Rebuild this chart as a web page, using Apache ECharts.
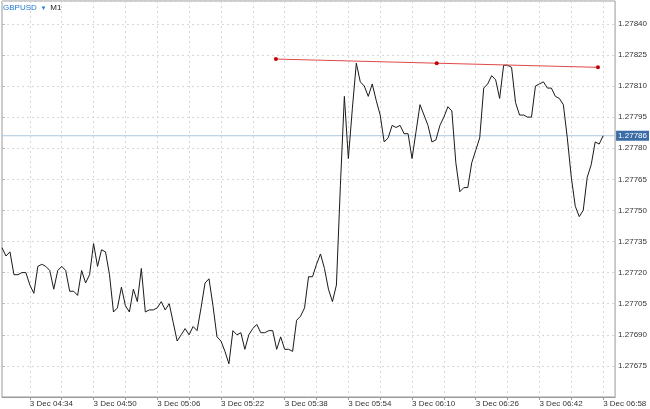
<!DOCTYPE html>
<html><head><meta charset="utf-8">
<script src="https://cdn.jsdelivr.net/npm/echarts@6/dist/echarts.min.js"></script>
<style>html,body{margin:0;padding:0;background:#fff}#c{width:650px;height:409px}</style>
</head><body><div id="c"></div>
<script>
const symbolName = 'GBPUSD';
const timeframe = 'M1';
// one close per minute, 3 Dec 04:27 .. 06:58
const closes = [
1.27732,1.27728,1.27730,1.27719,1.27719,1.27720,1.27720,1.27714,1.27710,1.27723,
1.27724,1.27723,1.27721,1.27712,1.27721,1.27723,1.27721,1.27711,1.27711,1.27709,
1.27721,1.27715,1.27719,1.27734,1.27723,1.27731,1.27730,1.27719,1.27701,1.27703,
1.27713,1.27704,1.27701,1.27712,1.27706,1.27722,1.27701,1.27702,1.27702,1.27703,
1.27706,1.27702,1.27705,1.27696,1.27687,1.27690,1.27693,1.27690,1.27694,1.27692,
1.27703,1.27715,1.27717,1.27704,1.27689,1.27687,1.27682,1.27676,1.27692,1.27690,
1.27691,1.27683,1.27690,1.27693,1.27695,1.27691,1.27691,1.27692,1.27692,1.27683,
1.27689,1.27683,1.27683,1.27682,1.27697,1.27699,1.27703,1.27718,1.27718,1.27724,
1.27729,1.27722,1.27712,1.27706,1.27714,1.27762,1.27805,1.27775,1.27799,1.27821,
1.27812,1.27810,1.27805,1.27811,1.27803,1.27796,1.27783,1.27785,1.27791,1.27790,
1.27791,1.27787,1.27787,1.27775,1.27788,1.27801,1.27796,1.27791,1.27783,1.27784,
1.27791,1.27795,1.27800,1.27798,1.27773,1.27759,1.27761,1.27761,1.27773,1.27779,
1.27785,1.27809,1.27811,1.27815,1.27813,1.27804,1.27820,1.27820,1.27819,1.27802,
1.27796,1.27796,1.27795,1.27795,1.27810,1.27811,1.27812,1.27809,1.27809,1.27805,
1.27804,1.27801,1.27785,1.27766,1.27752,1.27747,1.27750,1.27766,1.27772,1.27783,
1.27782,1.27786
];
const tickLabels = ['3 Dec 04:34','3 Dec 04:50','3 Dec 05:06','3 Dec 05:22','3 Dec 05:38',
                    '3 Dec 05:54','3 Dec 06:10','3 Dec 06:26','3 Dec 06:42','3 Dec 06:58'];
const tickIndex = [7,23,39,55,71,87,103,119,135,151];
const gridIndex = [7,15,23,31,39,47,55,63,71,79,87,95,103,111,119,127,135,143,151];
const currentPrice = 1.27786;
const trendX = [68.8, 109.2, 149.7];
const trendY = [1.27823, 1.27821, 1.27819];

const X_MAX = 154;
const chart = echarts.init(document.getElementById('c'), null, {renderer:'canvas'});
const font = 'Liberation Sans';
chart.setOption({
  animation: false,
  backgroundColor: '#fff',
  title: {
    left: 3, top: -1, padding: 0,
    text: '{a|' + symbolName + '} {b|▾} {c|' + timeframe + '}',
    textStyle: {
      fontWeight: 'normal',
      rich: {
        a: {fontFamily: font, fontSize: 8, fontWeight: 'normal', color: '#1f78d1'},
        b: {fontFamily: 'DejaVu Sans', fontSize: 7, fontWeight: 'normal', color: '#1f78d1'},
        c: {fontFamily: font, fontSize: 8, fontWeight: 'normal', color: '#222'}
      }
    }
  },
  grid: {left: 2, right: 32, top: 1, bottom: 12, show: true, borderColor: '#9a9a9a', borderWidth: 1},
  xAxis: {
    type: 'value', min: 0, max: X_MAX,
    axisLine: {show: true, lineStyle: {color: '#9a9a9a'}},
    axisTick: {show: true, length: 3, customValues: gridIndex, lineStyle: {color: '#9a9a9a'}},
    splitLine: {show: true, lineStyle: {color: '#d8d8d8', type: [2, 3], width: 1}},
    axisLabel: {
      customValues: tickIndex, margin: 3, align: 'left',
      fontFamily: font, fontSize: 8, color: '#333',
      formatter: v => tickLabels[tickIndex.indexOf(Math.round(v))] || ''
    }
  },
  yAxis: {
    type: 'value', position: 'right', min: 1.27660, max: 1.27851, interval: 0.00015,
    axisLine: {show: false},
    axisTick: {show: true, length: 3, lineStyle: {color: '#bbb'}},
    splitLine: {show: true, lineStyle: {color: '#d8d8d8', type: [2, 3], width: 1}},
    axisLabel: {
      margin: 3, showMinLabel: false, showMaxLabel: false,
      fontFamily: font, fontSize: 8, color: '#333',
      formatter: v => v.toFixed(5)
    }
  },
  series: [
    {
      type: 'line', name: 'price',
      data: [[0, currentPrice], [X_MAX, currentPrice]],
      symbol: 'none', silent: true,
      lineStyle: {color: '#aac6de', width: 1},
      z: 2,
      endLabel: {
        show: true, distance: 1,
        formatter: () => currentPrice.toFixed(5),
        fontFamily: font, fontSize: 8, color: '#fff',
        backgroundColor: '#3a6da6', padding: [1, 2, 1, 2]
      }
    },
    {
      type: 'line', name: symbolName,
      data: closes.map((v, i) => [i, v]),
      showSymbol: false, symbol: 'none',
      lineStyle: {color: '#1a1a1a', width: 1},
      z: 3
    },
    {
      type: 'line', name: 'trend',
      data: trendX.map((x, i) => [x, trendY[i]]),
      symbol: 'circle', symbolSize: 4, showSymbol: true,
      itemStyle: {color: '#c40000'},
      lineStyle: {color: '#e04848', width: 1},
      z: 4
    }
  ]
});
</script>
</body></html>
